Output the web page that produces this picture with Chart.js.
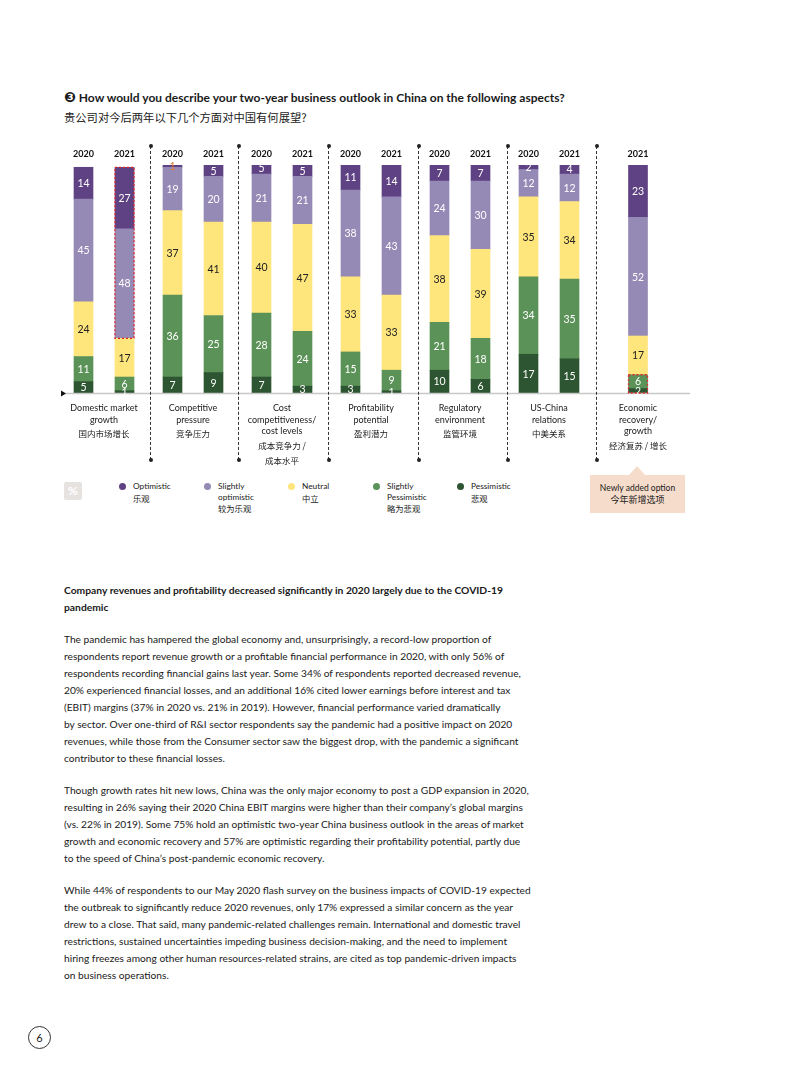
<!DOCTYPE html>
<html>
<head>
<meta charset="utf-8">
<script src="https://cdn.jsdelivr.net/npm/chart.js@4"></script>
<style>
  body { margin: 0; background: #fff; font-family: Lato, "Noto Sans CJK SC", sans-serif; color: #1a1a1a; }
  #page { position: relative; width: 793px; height: 1077px; overflow: hidden; }
  .abs { position: absolute; }
  #title { left: 64px; top: 90px; font-weight: bold; font-size: 12px; white-space: nowrap; }
  #titleCn { left: 64px; top: 109px; font-size: 11.3px; font-family: "Noto Sans CJK SC", sans-serif; white-space: nowrap; }
  #chartBox { left: 0; top: 140px; width: 793px; height: 260px; }
  .divider { width: 0; border-left: 1px dashed #333; top: 146px; height: 314px; }
  .divider::before, .divider::after { content: ""; position: absolute; left: -2.5px; width: 4px; height: 4px; border-radius: 2px; background: #222; }
  .divider::before { top: -2px; }
  .divider::after { bottom: -2px; }
  .cat { width: 96px; text-align: center; font-size: 9px; line-height: 11.5px; top: 402px; }
  .cat .cn { font-family: "Noto Sans CJK SC", sans-serif; font-size: 8.5px; line-height: 15px; margin-top: 1px; }
  .leg { top: 481px; font-size: 8.3px; line-height: 10.5px; }
  .leg .cn { font-family: "Noto Sans CJK SC", sans-serif; line-height: 13px; }
  .dot { position: absolute; left: -14px; top: 2px; width: 7px; height: 7px; border-radius: 4px; }
  #pct { left: 64px; top: 482px; width: 18px; height: 18px; background: #e6e2df; color: #fff; font-weight: bold; font-size: 12px; text-align: center; line-height: 18px; border-radius: 2px; }
  #newBox { left: 590px; top: 475px; width: 95px; height: 38px; background: #f6dccb; text-align: center; font-size: 8.5px; line-height: 12px; padding-top: 7px; box-sizing: border-box; }
  #newBox::before { content: ""; position: absolute; left: 39px; top: -9px; border-left: 8px solid transparent; border-right: 8px solid transparent; border-bottom: 9px solid #f6dccb; }
  #newBox .cn { font-family: "Noto Sans CJK SC", sans-serif; font-size: 9px; }
  #body { left: 64px; top: 582px; font-size: 10.2px; line-height: 17px; white-space: nowrap; }
  #body p { margin: 0 0 15px 0; }
  #body b { font-size: 10.3px; }
  #pageNo { left: 28px; top: 1026px; width: 21px; height: 21px; border: 1.5px solid #333; border-radius: 50%; text-align: center; line-height: 21px; font-size: 11px; }
</style>
</head>
<body>
<div id="page">
  <div id="title" class="abs"><span style="font-family:'DejaVu Sans';font-size:14px;line-height:12px">❸</span> How would you describe your two-year business outlook in China on the following aspects?</div>
  <div id="titleCn" class="abs">贵公司对今后两年以下几个方面对中国有何展望?</div>

  <div id="chartBox" class="abs"><canvas id="chart" width="793" height="260"></canvas></div>

  <div id="pct" class="abs">%</div>
  <div id="newBox" class="abs">Newly added option<br><span class="cn">今年新增选项</span></div>

  <div id="body" class="abs">
    <p><b>Company revenues and profitability decreased significantly in 2020 largely due to the COVID-19<br>pandemic</b></p>
    <p>The pandemic has hampered the global economy and, unsurprisingly, a record-low proportion of<br>
respondents report revenue growth or a profitable financial performance in 2020, with only 56% of<br>
respondents recording financial gains last year. Some 34% of respondents reported decreased revenue,<br>
20% experienced financial losses, and an additional 16% cited lower earnings before interest and tax<br>
(EBIT) margins (37% in 2020 vs. 21% in 2019). However, financial performance varied dramatically<br>
by sector. Over one-third of R&amp;I sector respondents say the pandemic had a positive impact on 2020<br>
revenues, while those from the Consumer sector saw the biggest drop, with the pandemic a significant<br>
contributor to these financial losses.</p>
    <p>Though growth rates hit new lows, China was the only major economy to post a GDP expansion in 2020,<br>
resulting in 26% saying their 2020 China EBIT margins were higher than their company’s global margins<br>
(vs. 22% in 2019). Some 75% hold an optimistic two-year China business outlook in the areas of market<br>
growth and economic recovery and 57% are optimistic regarding their profitability potential, partly due<br>
to the speed of China’s post-pandemic economic recovery.</p>
    <p>While 44% of respondents to our May 2020 flash survey on the business impacts of COVID-19 expected<br>
the outbreak to significantly reduce 2020 revenues, only 17% expressed a similar concern as the year<br>
drew to a close. That said, many pandemic-related challenges remain. International and domestic travel<br>
restrictions, sustained uncertainties impeding business decision-making, and the need to implement<br>
hiring freezes among other human resources-related strains, are cited as top pandemic-driven impacts<br>
on business operations.</p>
  </div>

  <div id="pageNo" class="abs">6</div>
</div>

<script>
// categories and their labels (English lines, Chinese lines)
const categories = ['Domestic market growth', 'Competitive pressure', 'Cost competitiveness/ cost levels',
  'Profitability potential', 'Regulatory environment', 'US-China relations', 'Economic recovery/ growth'];
const categoryEn = [['Domestic market', 'growth'], ['Competitive', 'pressure'], ['Cost', 'competitiveness/', 'cost levels'],
  ['Profitability', 'potential'], ['Regulatory', 'environment'], ['US-China', 'relations'], ['Economic', 'recovery/', 'growth']];
const categoryCn = [['国内市场增长'], ['竞争压力'], ['成本竞争力 /', '成本水平'], ['盈利潜力'], ['监管环境'], ['中美关系'], ['经济复苏 / 增长']];

// one entry per bar: which category, which year
const barCategory = [0, 0, 1, 1, 2, 2, 3, 3, 4, 4, 5, 5, 6];
const barYear = ['2020', '2021', '2020', '2021', '2020', '2021', '2020', '2021', '2020', '2021', '2020', '2021', '2021'];

// series values (%), bottom to top of each stack
const pessimistic = [5, 1, 7, 9, 7, 3, 3, 1, 10, 6, 17, 15, 2];
const slightlyPessimistic = [11, 6, 36, 25, 28, 24, 15, 9, 21, 18, 34, 35, 6];
const neutral = [24, 17, 37, 41, 40, 47, 33, 33, 38, 39, 35, 34, 17];
const slightlyOptimistic = [45, 48, 19, 20, 21, 21, 38, 43, 24, 30, 12, 12, 52];
const optimistic = [14, 27, 1, 5, 5, 5, 11, 14, 7, 7, 2, 4, 23];

const seriesNames = ['Pessimistic', 'Slightly Pessimistic', 'Neutral', 'Slightly optimistic', 'Optimistic'];
const seriesCn = ['悲观', '略为悲观', '中立', '较为乐观', '乐观'];
const seriesValues = [pessimistic, slightlyPessimistic, neutral, slightlyOptimistic, optimistic];
const seriesColors = ['#2e5531', '#5b9258', '#fee57c', '#9589b5', '#5f4283'];
const labelColors = ['#fff', '#fff', '#222', '#fff', '#fff'];

// bars highlighted as newly added options: [bar index, first series, last series]
const highlights = [[1, 3, 4], [12, 0, 1]];

// layout: x scale runs in page pixels
const groupStart = 104, groupStep = 89, pairOffset = 20.5;
const barX = barCategory.map((c, i) => {
  const center = groupStart + groupStep * c;
  const paired = barCategory.filter(v => v === c).length > 1;
  if (!paired) return center;
  return barYear[i] === '2020' ? center - pairOffset : center + pairOffset;
});

const datasets = seriesValues.map((vals, s) => ({
  label: seriesNames[s],
  data: vals.map((v, i) => ({ x: barX[i], y: v })),
  backgroundColor: seriesColors[s],
  borderWidth: 0,
  barThickness: 19
}));

const decorations = {
  id: 'decorations',
  afterDatasetsDraw(chart) {
    const ctx = chart.ctx;
    const yScale = chart.scales.y;
    const base = yScale.getPixelForValue(0);
    // baseline
    ctx.save();
    ctx.strokeStyle = '#c8c8c8';
    ctx.lineWidth = 1.5;
    ctx.beginPath();
    ctx.moveTo(65, base + 0.5);
    ctx.lineTo(690, base + 0.5);
    ctx.stroke();
    ctx.fillStyle = '#111';
    ctx.beginPath();
    ctx.moveTo(61, base - 2.5);
    ctx.lineTo(66, base + 0.5);
    ctx.lineTo(61, base + 3.5);
    ctx.fill();

    // segment values
    ctx.textAlign = 'center';
    ctx.textBaseline = 'middle';
    ctx.font = '10.5px Lato';
    chart.data.datasets.forEach((ds, s) => {
      chart.getDatasetMeta(s).data.forEach((bar, i) => {
        const v = seriesValues[s][i];
        ctx.fillStyle = (v <= 1 && s === 4) ? '#e07a2a' : labelColors[s];
        ctx.fillText(String(v), bar.x, (bar.y + bar.base) / 2 + 0.5);
      });
    });

    // year labels
    ctx.font = 'bold 9px Lato';
    ctx.fillStyle = '#111';
    chart.getDatasetMeta(0).data.forEach((bar, i) => {
      ctx.fillText(barYear[i], bar.x, chart.chartArea.top - 11);
    });

    // dashed outlines for newly added options
    ctx.strokeStyle = '#e0262d';
    ctx.lineWidth = 1.3;
    ctx.setLineDash([2, 2]);
    highlights.forEach(([i, s0, s1]) => {
      const top = chart.getDatasetMeta(s1).data[i];
      const bottom = chart.getDatasetMeta(s0).data[i];
      const w = top.width;
      ctx.strokeRect(top.x - w / 2, top.y, w, bottom.base - top.y);
    });
    ctx.restore();
  }
};

new Chart(document.getElementById('chart').getContext('2d'), {
  type: 'bar',
  data: { datasets },
  options: {
    responsive: false,
    animation: false,
    layout: { padding: { top: 25, bottom: 7, left: 0, right: 0 } },
    plugins: { legend: { display: false }, tooltip: { enabled: false } },
    scales: {
      x: { type: 'linear', min: 0, max: 793, offset: false, stacked: true, display: false },
      y: { min: 0, max: 100, stacked: true, display: false }
    }
  },
  plugins: [decorations]
});

// dividers between categories
const dividerX = [150, 238, 328, 418, 507, 596];
const page = document.getElementById('page');
dividerX.forEach(x => {
  const d = document.createElement('div');
  d.className = 'abs divider';
  d.style.left = x + 'px';
  page.appendChild(d);
});

// category labels under the bars
categories.forEach((c, g) => {
  const d = document.createElement('div');
  d.className = 'abs cat';
  d.style.left = (groupStart + groupStep * g - 48) + 'px';
  d.innerHTML = categoryEn[g].join('<br>') + '<div class="cn">' + categoryCn[g].join('<br>') + '</div>';
  page.appendChild(d);
});

// legend, in top-to-bottom order
const legendX = [133, 218, 302, 387, 471];
[4, 3, 2, 1, 0].forEach((s, k) => {
  const d = document.createElement('div');
  d.className = 'abs leg';
  d.style.left = legendX[k] + 'px';
  const en = seriesNames[s].split(' ').join('<br>');
  d.innerHTML = '<span class="dot" style="background:' + seriesColors[s] + '"></span>' + en +
    '<div class="cn">' + seriesCn[s] + '</div>';
  page.appendChild(d);
});
</script>
</body>
</html>
